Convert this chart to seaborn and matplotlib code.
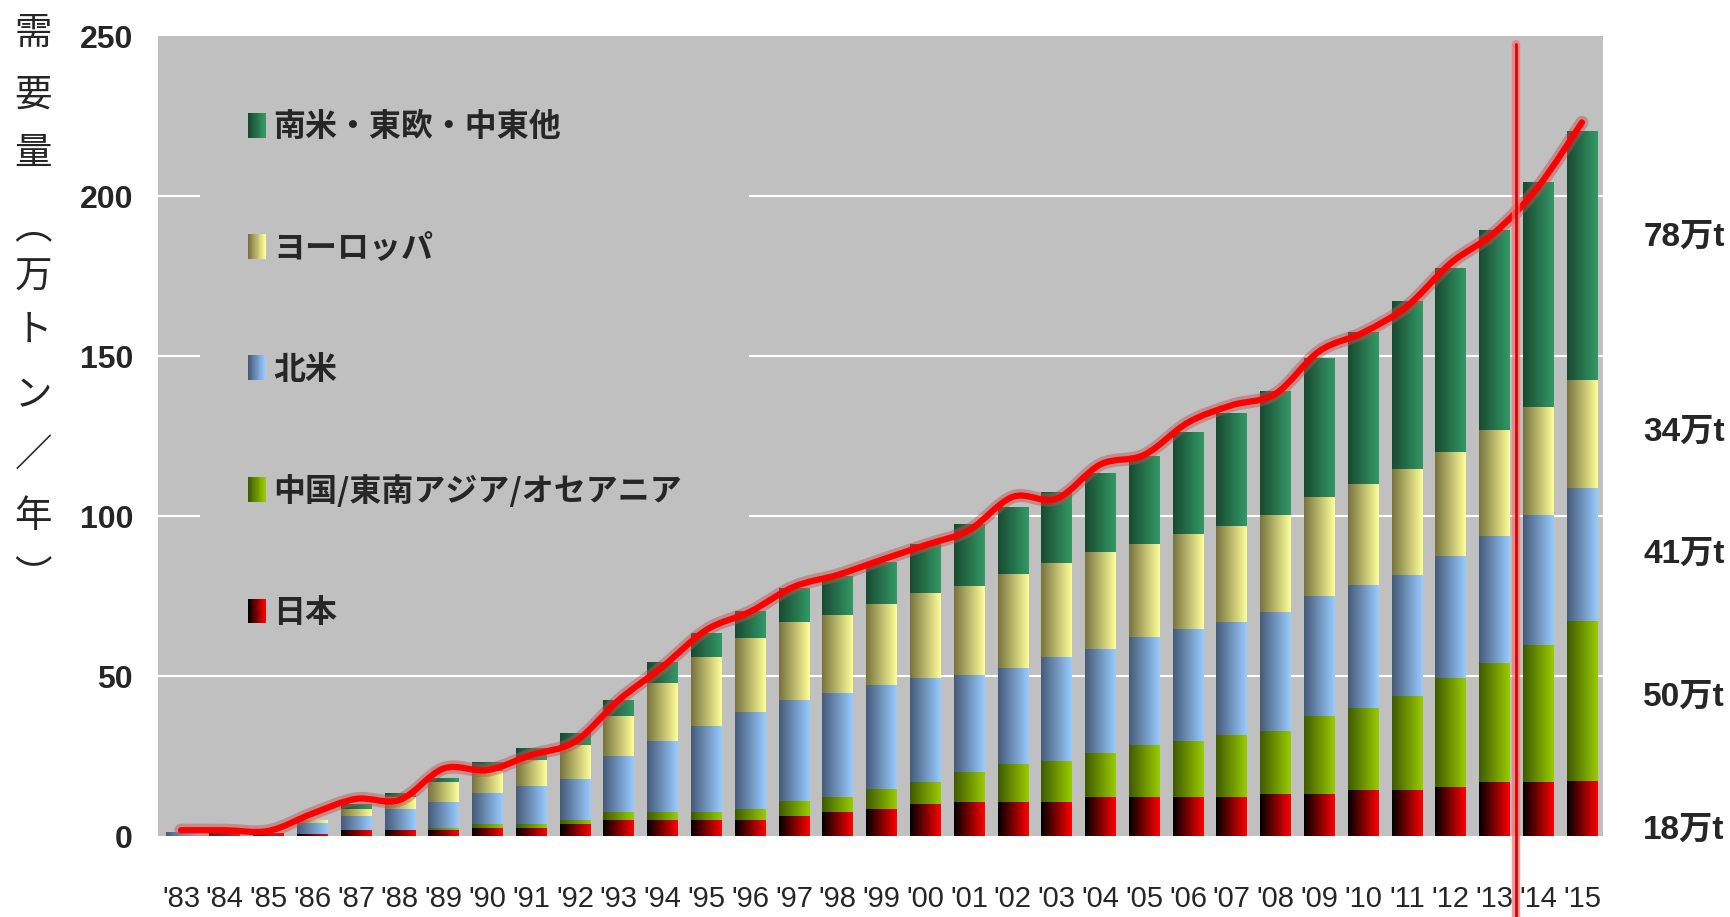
import numpy as np
import pandas as pd
import matplotlib
matplotlib.use("Agg")
import matplotlib.pyplot as plt
import seaborn as sns
from matplotlib import font_manager
from matplotlib.patches import Rectangle, PathPatch
from matplotlib.path import Path
from matplotlib.legend_handler import HandlerBase
from matplotlib.colors import LinearSegmentedColormap
import matplotlib.patheffects as pe

# ---------------- data ----------------
years = ["'83", "'84", "'85", "'86", "'87", "'88", "'89", "'90", "'91", "'92", "'93",
         "'94", "'95", "'96", "'97", "'98", "'99", "'00", "'01", "'02", "'03", "'04",
         "'05", "'06", "'07", "'08", "'09", "'10", "'11", "'12", "'13", "'14", "'15"]
japan = [0, 1.0, 0.8, 0.5, 1.7, 1.7, 1.7, 2.5, 2.5, 3.75, 5.0,
         5.0, 5.0, 5.0, 6.25, 7.2, 8.4, 9.7, 10.6, 10.6, 10.6, 12.0,
         12.0, 12.0, 12.0, 13.1, 13.1, 14.3, 14.3, 15.3, 16.6, 16.6, 17.0]
china_asia = [0, 0, 0, 0, 0, 0, 0.8, 1.25, 1.25, 1.25, 2.3,
              2.2, 2.2, 3.4, 4.4, 4.7, 6.0, 6.9, 9.4, 11.9, 12.8, 13.9,
              16.2, 17.4, 19.5, 19.7, 24.4, 25.4, 29.2, 33.8, 37.2, 43.0, 50.0]
north_america = [1.0, 0, 0, 3.3, 4.5, 6.7, 8.1, 9.4, 11.6, 12.8, 17.4,
                 22.2, 26.9, 30.3, 31.6, 32.5, 32.5, 32.5, 30.3, 30.0, 32.5, 32.5,
                 33.7, 35.0, 35.2, 37.2, 37.2, 38.5, 38.0, 38.4, 39.7, 40.7, 41.5]
europe = [0, 0, 0, 1.2, 2.2, 3.5, 6.1, 6.9, 8.1, 10.4, 12.8,
          18.4, 21.8, 23.1, 24.4, 24.4, 25.6, 26.8, 27.8, 29.1, 29.4, 30.3,
          29.1, 29.9, 30.1, 30.3, 31.2, 31.5, 32.9, 32.5, 33.3, 33.7, 33.7]
others = [0, 0, 0, 0, 1.5, 1.5, 1.4, 2.8, 3.8, 3.7, 5.0,
          6.3, 7.5, 8.4, 10.6, 12.2, 13.1, 15.3, 19.1, 21.2, 22.2, 24.7,
          27.7, 31.9, 35.1, 38.7, 43.4, 47.6, 52.5, 57.2, 62.3, 70.1, 78.0]
demand_line = [1.8, 1.8, 1.6, 7.0, 11.6, 11.3, 21.1, 20.6, 25.3, 29.5, 42.5,
               52.9, 64.4, 70.1, 77.9, 81.6, 86.3, 90.9, 95.6, 106.0, 105.4, 116.1,
               119.1, 129.2, 134.6, 138.2, 151.5, 157.3, 165.5, 179.0, 188.5, 202.9, 223.0]
series_names = ["日本", "中国/東南アジア/オセアニア", "北米", "ヨーロッパ", "南米・東欧・中東他"]
share_labels = ["78万t", "34万t", "41万t", "50万t", "18万t"]
y_ticks = [0, 50, 100, 150, 200, 250]
ylabel_chars = list("需要量︵万トン／年︶")
forecast_start = "'14"

# ---------------- style ----------------
sns.set_style("white")
avail = {f.name for f in font_manager.fontManager.ttflist}
narrow = "Liberation Sans Narrow" in avail
latin = "Liberation Sans Narrow" if narrow else "Liberation Sans"
plt.rcParams["font.family"] = [latin, "Noto Sans CJK JP", "DejaVu Sans"]
cjk = ["Noto Sans CJK JP", "DejaVu Sans"]
if narrow:
    fs_y, fs_x, fs_r = 27, 24, 26
else:
    fs_y, fs_x, fs_r = 23, 21, 24

grads = [("#000000", "#ff0000"),
         ("#3f5a00", "#99cc00"),
         ("#455a78", "#99ccff"),
         ("#77733f", "#ffff99"),
         ("#174a30", "#339966")]

W, H = 1730, 917
fig = plt.figure(figsize=(W / 100, H / 100), dpi=100)
fig.patch.set_facecolor("white")
ax = fig.add_axes([158 / W, 81 / H, 1445 / W, 800 / H])
ax.set_facecolor("#c0c0c0")

n = len(years)
xpos = np.arange(n)
layers = [japan, china_asia, north_america, europe, others]
cum = np.cumsum(np.array(layers, dtype=float), axis=0)
grad_img = np.linspace(0, 1, 128).reshape(1, -1)

for i in reversed(range(len(layers))):
    df = pd.DataFrame({"x": xpos, "value": cum[i]})
    start = len(ax.patches)
    sns.barplot(data=df, x="x", y="value", ax=ax, native_scale=True, orient="x",
                width=0.7, color=grads[i][1], saturation=1, errorbar=None)
    cm = LinearSegmentedColormap.from_list(f"g{i}", list(grads[i]))
    for p in ax.patches[start:]:
        x0, w, h = p.get_x(), p.get_width(), p.get_height()
        p.set_visible(False)
        if h <= 0:
            continue
        ax.imshow(grad_img, cmap=cm, extent=[x0, x0 + w, 0, h], aspect="auto",
                  interpolation="bilinear", zorder=2 + (len(layers) - i) * 0.1)

# smoothed demand line (Bezier through the data points, like a spreadsheet "smoothed line")
pts = np.column_stack([xpos, np.asarray(demand_line, dtype=float)])
verts = [tuple(pts[0])]
codes = [Path.MOVETO]
for k in range(n - 1):
    p0 = pts[k - 1] if k > 0 else pts[k]
    p1, p2 = pts[k], pts[k + 1]
    p3 = pts[k + 2] if k + 2 < n else pts[k + 1]
    c1 = p1 + (p2 - p0) / 6.0
    c2 = p2 - (p3 - p1) / 6.0
    verts += [tuple(c1), tuple(c2), tuple(p2)]
    codes += [Path.CURVE4] * 3
curve = PathPatch(Path(verts, codes), fill=False, edgecolor="#ff0000", linewidth=4.5,
                  capstyle="round", joinstyle="round", zorder=6, transform=ax.transData,
                  path_effects=[pe.Stroke(linewidth=9.5, foreground="#c05050", alpha=0.45),
                                pe.Normal()])
ax.add_patch(curve)

split = years.index(forecast_start) - 0.5
ax.axvline(split, ymin=-0.102, ymax=0.99, color="#e00000", lw=2, clip_on=False, zorder=7,
           path_effects=[pe.Stroke(linewidth=6, foreground="#ff7070", alpha=0.7), pe.Normal()])

ax.set_xlim(-0.525, n - 1 + 0.48)
ax.set_ylim(0, 250)
ax.set_yticks(y_ticks)
ax.set_yticklabels([str(v) for v in y_ticks], fontsize=fs_y, fontweight="bold")
ax.set_xticks(xpos)
ax.set_xticklabels(years, fontsize=fs_x)
ax.tick_params(axis="both", length=0)
ax.tick_params(axis="y", pad=18)
ax.tick_params(axis="x", pad=35)
for s in ax.spines.values():
    s.set_visible(False)
ax.set_xlabel("")
ax.set_ylabel("")
ax.set_axisbelow(True)
ax.yaxis.grid(True, color="white", linewidth=1.5)
ax.xaxis.grid(False)
for gl, v in zip(ax.yaxis.get_gridlines(), y_ticks):
    if v in (0, 250):
        gl.set_visible(False)

# plain grey panel behind the legend (hides the gridlines there, as in the original)
ax.add_patch(Rectangle((0.029, 0.214), 0.38, 0.756, transform=ax.transAxes,
                       facecolor="#c0c0c0", edgecolor="none", zorder=1))


class GradHandler(HandlerBase):
    def __init__(self, c0, c1, steps=20):
        super().__init__()
        self.cm = LinearSegmentedColormap.from_list("h", [c0, c1])
        self.steps = steps

    def create_artists(self, legend, orig_handle, xdescent, ydescent, width, height,
                       fontsize, trans):
        arts = []
        for k in range(self.steps):
            r = Rectangle((-xdescent + width * k / self.steps, -ydescent),
                          width / self.steps * 1.05, height,
                          facecolor=self.cm(k / (self.steps - 1)), edgecolor="none",
                          linewidth=0, transform=trans)
            arts.append(r)
        return arts


handles = [Rectangle((0, 0), 1, 1) for _ in layers]
order = list(reversed(range(len(layers))))
leg = ax.legend([handles[i] for i in order], [series_names[i] for i in order],
                handler_map={handles[i]: GradHandler(*grads[i]) for i in order},
                loc="upper left", bbox_to_anchor=(0.0336, 0.9576), frameon=True,
                facecolor="#c0c0c0", edgecolor="none", framealpha=1, fancybox=False,
                prop={"family": cjk, "weight": "bold", "size": 23},
                labelspacing=2.79, handlelength=0.55, handleheight=0.8,
                handletextpad=0.23, borderpad=1.3, borderaxespad=0)
leg.set_zorder(1.2)

# vertical axis title (stacked characters)
ylabel_px = [33, 95, 153, 228, 277, 330, 396, 455, 517, 577]
for ch, ypx in zip(ylabel_chars, ylabel_px):
    fig.text(33 / W, 1 - ypx / H, ch, ha="center", va="center",
             fontsize=27, family=cjk)

# right-side share labels
label_px = [237, 432, 554, 697, 830]
for lab, ypx in zip(share_labels, label_px):
    fig.text(1684 / W, 1 - ypx / H, lab, ha="center", va="center", fontsize=fs_r,
             fontweight="bold", family=[latin, "Noto Sans CJK JP"])

fig.savefig("out.png", dpi=100, facecolor="white")
